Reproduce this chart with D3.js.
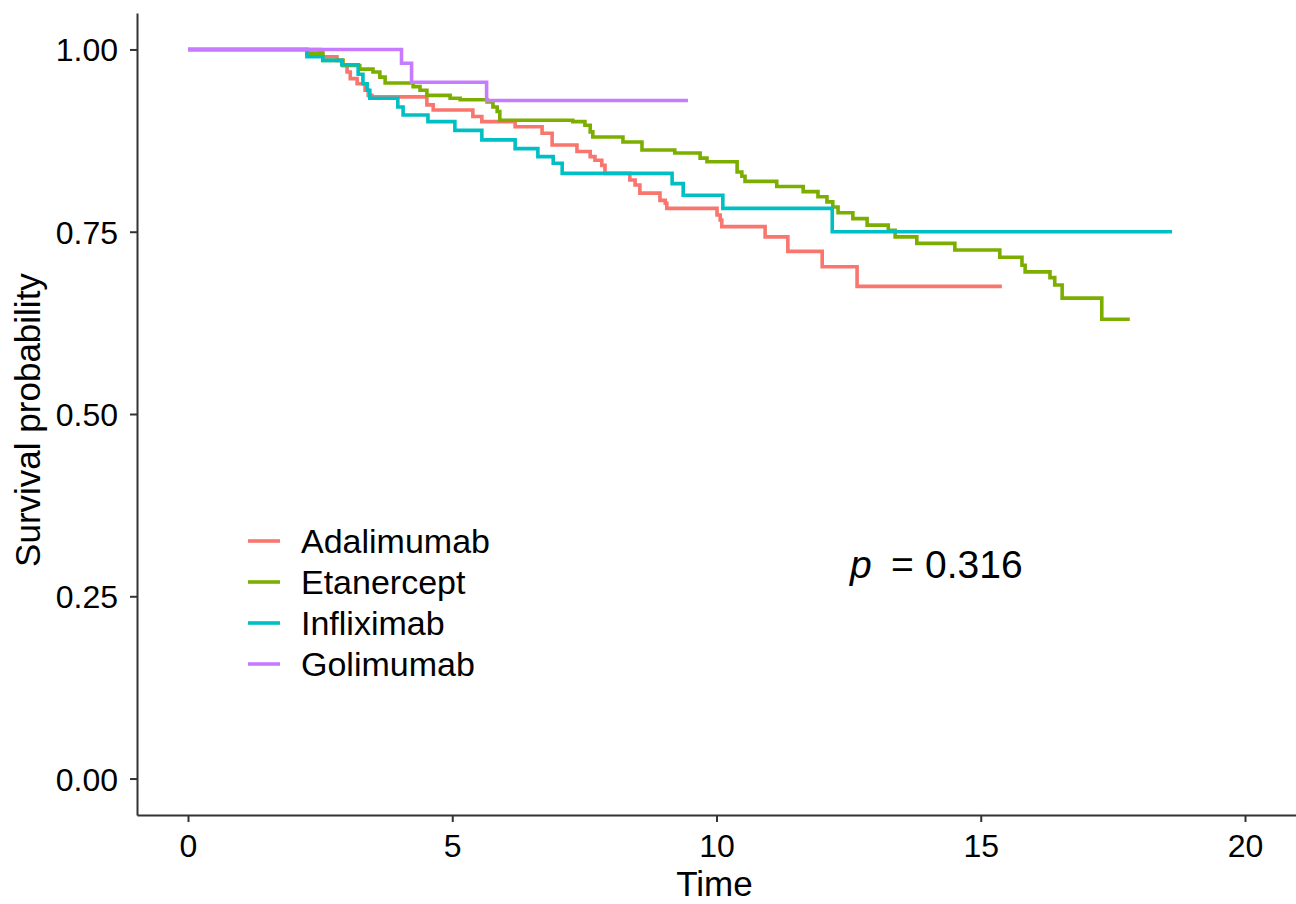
<!DOCTYPE html>
<html>
<head>
<meta charset="utf-8">
<script src="https://cdn.jsdelivr.net/npm/d3@7"></script>
<style>
  body { margin: 0; background: #fff; }
  text { font-family: "Liberation Sans", Arial, sans-serif; }
</style>
</head>
<body>
<div id="app"></div>
<script>
const full = { width: 1296, height: 904 };
const margin = { top: 13, left: 137, right: 0, bottom: 89 };

const groups = ["Adalimumab", "Etanercept", "Infliximab", "Golimumab"];
const colors = ["#F8766D", "#7CAE00", "#00BFC4", "#C77CFF"];

// [time, survival] after each step; last entry is the final censoring time
const adalimumab = [
  [0, 1], [2.50, 0.995], [2.55, 0.990], [2.82, 0.985], [2.93, 0.978], [3.01, 0.969],
  [3.07, 0.960], [3.20, 0.953], [3.35, 0.944], [3.41, 0.937], [3.48, 0.935],
  [4.52, 0.924], [4.64, 0.917], [5.39, 0.908], [5.56, 0.901], [6.19, 0.894],
  [6.70, 0.885], [6.89, 0.869], [7.36, 0.860], [7.61, 0.853], [7.70, 0.848],
  [7.83, 0.841], [7.89, 0.830], [8.36, 0.821], [8.46, 0.814], [8.55, 0.803],
  [8.93, 0.793], [9.03, 0.789], [9.06, 0.782], [10.01, 0.773], [10.07, 0.766],
  [10.10, 0.757], [10.92, 0.743], [11.35, 0.723], [12.00, 0.702], [12.66, 0.675],
  [15.40, 0.675]
];
const etanercept = [
  [0, 1], [2.25, 0.995], [2.55, 0.985], [2.93, 0.978], [3.25, 0.973], [3.50, 0.969],
  [3.63, 0.962], [3.73, 0.954], [4.26, 0.949], [4.39, 0.944], [4.52, 0.937],
  [4.96, 0.933], [5.15, 0.931], [5.66, 0.928], [5.77, 0.921], [5.85, 0.915],
  [5.90, 0.903], [7.28, 0.901], [7.51, 0.896], [7.61, 0.887], [7.66, 0.880],
  [8.23, 0.873], [8.59, 0.862], [9.21, 0.858], [9.69, 0.851], [9.82, 0.846],
  [10.39, 0.832], [10.48, 0.826], [10.54, 0.819], [11.14, 0.812], [11.64, 0.805],
  [11.92, 0.798], [12.09, 0.791], [12.20, 0.784], [12.30, 0.776], [12.58, 0.768],
  [12.85, 0.759], [13.25, 0.752], [13.38, 0.743], [13.79, 0.734], [14.51, 0.725],
  [15.36, 0.715], [15.78, 0.704], [15.84, 0.695], [16.31, 0.687], [16.40, 0.677],
  [16.54, 0.659], [17.29, 0.630], [17.82, 0.630]
];
const infliximab = [
  [0, 1], [2.25, 0.990], [2.55, 0.985], [2.91, 0.979], [3.22, 0.966], [3.31, 0.953],
  [3.39, 0.944], [3.44, 0.933], [3.97, 0.921], [4.07, 0.910], [4.54, 0.901],
  [5.05, 0.889], [5.56, 0.876], [6.19, 0.864], [6.62, 0.853], [6.91, 0.844],
  [7.08, 0.830], [9.16, 0.816], [9.37, 0.800], [10.12, 0.782], [12.19, 0.750],
  [18.62, 0.750]
];
const golimumab = [
  [0, 1], [4.04, 0.981], [4.23, 0.955], [5.65, 0.930], [9.46, 0.930]
];
const curves = [adalimumab, etanercept, infliximab, golimumab];

const xTicks = [0, 5, 10, 15, 20];
const yTicks = [0, 0.25, 0.5, 0.75, 1];
const pLabel = "0.316";

const svg = d3.select("#app")
  .append("svg")
  .attr("width", full.width)
  .attr("height", full.height);

const x = d3.scaleLinear()
  .domain([-0.965, 20.965])
  .range([margin.left, full.width - margin.right]);

const y = d3.scaleLinear()
  .domain([-0.05, 1.05])
  .range([full.height - margin.bottom, margin.top]);

const fmt = d3.format(".2f");

svg.append("g")
  .attr("transform", `translate(0,${full.height - margin.bottom})`)
  .call(d3.axisBottom(x).tickValues(xTicks).tickSize(7).tickSizeOuter(0).tickPadding(12))
  .call(g => g.selectAll("text").attr("font-size", 32).attr("fill", "#000"))
  .call(g => g.selectAll("line, path").attr("stroke", "#333").attr("stroke-width", 2));

svg.append("g")
  .attr("transform", `translate(${margin.left},0)`)
  .call(d3.axisLeft(y).tickValues(yTicks).tickFormat(fmt).tickSize(7).tickSizeOuter(0).tickPadding(12))
  .call(g => g.selectAll("text").attr("font-size", 32).attr("fill", "#000").attr("dy", "0.36em"))
  .call(g => g.selectAll("line, path").attr("stroke", "#333").attr("stroke-width", 2));

svg.append("text")
  .attr("x", (margin.left + full.width) / 2 - 2)
  .attr("y", 896)
  .attr("text-anchor", "middle")
  .attr("font-size", 35)
  .text("Time");

svg.append("text")
  .attr("transform", `translate(40,${(margin.top + full.height - margin.bottom) / 2 + 6}) rotate(-90)`)
  .attr("text-anchor", "middle")
  .attr("font-size", 35)
  .text("Survival probability");

const line = d3.line()
  .x(d => x(d[0]))
  .y(d => y(d[1]))
  .curve(d3.curveStepAfter);

svg.selectAll(".curve")
  .data(curves)
  .join("path")
  .attr("class", "curve")
  .attr("fill", "none")
  .attr("stroke", (d, i) => colors[i])
  .attr("stroke-width", 3.6)
  .attr("d", line);

const legend = svg.selectAll(".legend")
  .data(groups)
  .join("g")
  .attr("class", "legend")
  .attr("transform", (d, i) => `translate(248,${541 + i * 41})`);

legend.append("line")
  .attr("x1", 0).attr("x2", 32)
  .attr("stroke", (d, i) => colors[i])
  .attr("stroke-width", 3.6);

legend.append("text")
  .attr("x", 53)
  .attr("dy", "0.36em")
  .attr("font-size", 34)
  .text(d => d);

const pt = svg.append("text")
  .attr("y", 578)
  .attr("font-size", 39);
pt.append("tspan").attr("x", 850).attr("font-style", "italic").text("p");
pt.append("tspan").attr("x", 891).text("=");
pt.append("tspan").attr("x", 925).text(pLabel);
</script>
</body>
</html>
